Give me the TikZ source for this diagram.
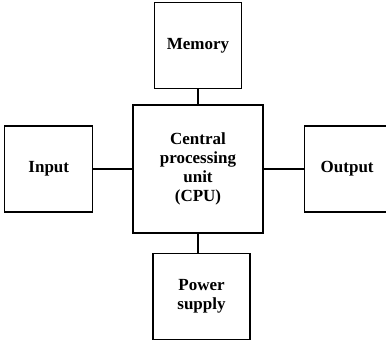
\documentclass[tikz,border=0pt]{standalone}
\usepackage{fontspec}
\setmainfont{Liberation Serif}
\usetikzlibrary{positioning}

\begin{document}
\begin{tikzpicture}[x=1pt, y=-1pt, node distance=15pt and 39pt,
font=\bfseries\fontsize{17}{19}\selectfont,
box/.style={draw, line width=1.2pt, align=center, minimum width=87pt, minimum height=86pt, inner sep=2pt},
link/.style={line width=1.4pt}]
\useasboundingbox (0,0) rectangle (386,341);
\clip (0,0) rectangle (386,341);
\node[box, minimum width=130pt, minimum height=128pt] (cpu) at (198,169) {Central\\processing\\unit\\(CPU)};
\node[box, above=of cpu] (memory) {Memory};
\node[box, minimum width=97pt, below=19pt of cpu, xshift=3.5pt] (power) {Power\\supply};
\node[box, minimum width=88pt, left=of cpu] (input) {Input};
\node[box, minimum width=86pt, right=40pt of cpu] (output) {Output};
\draw[link] (memory) -- (cpu);
\draw[link] (input) -- (cpu);
\draw[link] (cpu) -- (output);
\draw[link] (cpu.south) -- (cpu.south |- power.north);
\end{tikzpicture}
\end{document}
